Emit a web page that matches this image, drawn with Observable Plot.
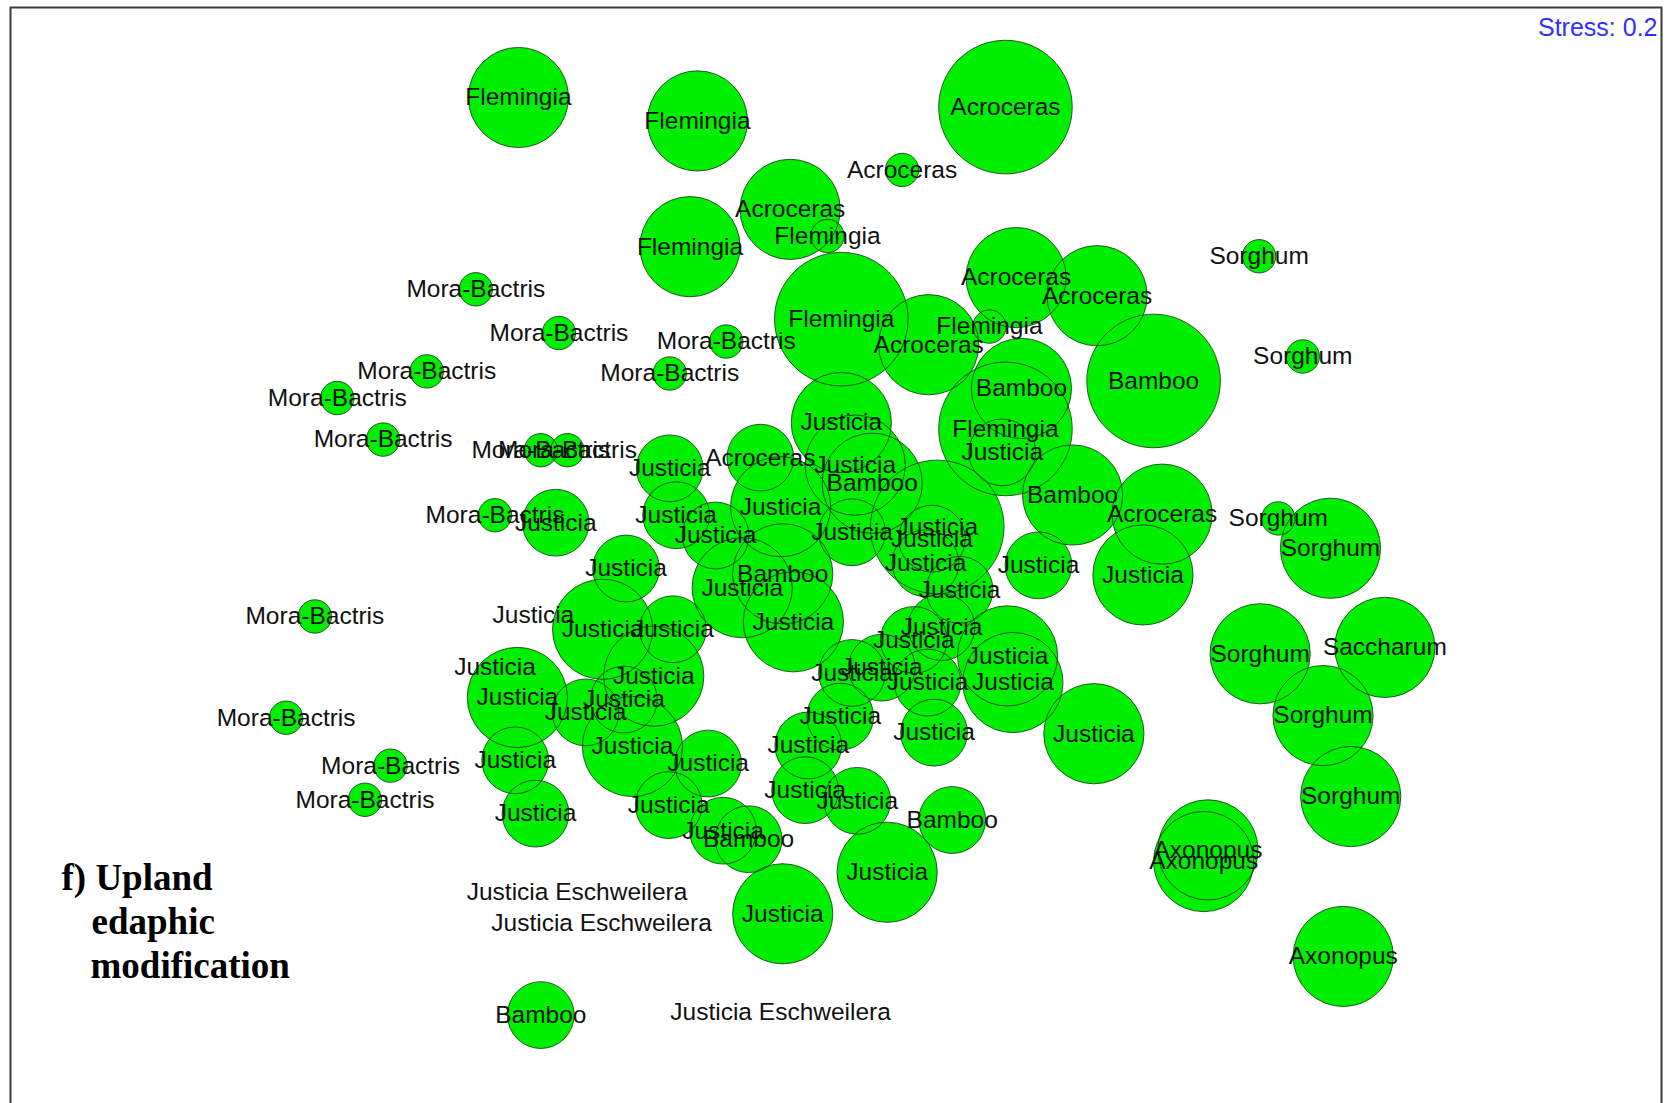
<!DOCTYPE html>
<html>
<head>
<meta charset="utf-8">
<script src="https://cdn.jsdelivr.net/npm/d3@7"></script>
<script src="https://cdn.jsdelivr.net/npm/@observablehq/plot@0.6"></script>
<style>
  html, body { margin: 0; padding: 0; background: #fff; overflow: hidden; }
  #chart { width: 1671px; height: 1103px; overflow: hidden; }
</style>
</head>
<body>
<div id="chart"></div>
<script>
// NMDS ordination of sampling plots, bubble size = abundance class of the dominant taxon
const species = [
  "Flemingia", "Flemingia", "Acroceras", "Acroceras", "Acroceras", "Flemingia", "Flemingia", "Sorghum",
  "Acroceras", "Acroceras", "Mora-Bactris", "Flemingia", "Flemingia", "Acroceras", "Mora-Bactris", "Mora-Bactris",
  "Sorghum", "Bamboo", "Bamboo", "Mora-Bactris", "Mora-Bactris", "Mora-Bactris", "Flemingia", "Justicia",
  "Justicia", "Mora-Bactris", "Mora-Bactris", "Mora-Bactris", "Justicia", "Acroceras", "Justicia", "Bamboo",
  "Bamboo", "Justicia", "Mora-Bactris", "Justicia", "Justicia", "Acroceras", "Sorghum", "Justicia",
  "Justicia", "Justicia", "Justicia", "Sorghum", "Justicia", "Justicia", "Justicia", "Justicia",
  "Bamboo", "Justicia", "Justicia", "Justicia", "Mora-Bactris", "Justicia", "Justicia", "Justicia",
  "Justicia", "Justicia", "Sorghum", "Saccharum", "Justicia", "Justicia", "Justicia", "Justicia",
  "Justicia", "Justicia", "Justicia", "Justicia", "Justicia", "Justicia", "Sorghum", "Mora-Bactris",
  "Justicia", "Justicia", "Justicia", "Justicia", "Justicia", "Justicia", "Justicia", "Mora-Bactris",
  "Justicia", "Justicia", "Justicia", "Mora-Bactris", "Sorghum", "Justicia", "Bamboo", "Justicia",
  "Bamboo", "Axonopus", "Axonopus", "Justicia", "Justicia", "Justicia Eschweilera", "Justicia Eschweilera", "Axonopus",
  "Bamboo", "Justicia Eschweilera"
];

// ordination scores (plot units), axis 1 and axis 2 (axis 2 increasing downwards)
const nmds1 = [
  486, 654, 943, 846, 741, 776, 647, 1181,
  953, 1029, 446, 789, 928, 871, 524, 681,
  1222, 1082, 958, 400, 316, 628, 943, 940,
  789, 359, 507, 532, 628, 713, 802, 818,
  1006, 732, 464, 521, 634, 1090, 1199, 671,
  799, 879, 874, 1248, 868, 974, 1072, 587,
  734, 696, 900, 500, 295, 565, 631, 744,
  883, 857, 1182, 1299, 945, 950, 464, 613,
  799, 827, 870, 485, 585, 549, 1241, 268,
  788, 876, 1026, 593, 758, 483, 664, 366,
  755, 804, 627, 342, 1267, 502, 893, 678,
  702, 1133, 1129, 832, 734, 541, 564, 1260,
  507, 732
];
const nmds2 = [
  91, 113, 100, 159, 196, 221, 231, 240,
  260, 277, 271, 299, 306, 323, 312, 320,
  334, 357, 364, 348, 373, 350, 402, 424,
  396, 412, 422, 422, 439, 429, 436, 453,
  464, 475, 483, 490, 483, 482, 486, 502,
  499, 494, 505, 514, 528, 530, 539, 533,
  538, 551, 553, 577, 578, 590, 590, 583,
  588, 600, 613, 607, 615, 640, 626, 634,
  631, 626, 640, 654, 656, 668, 671, 673,
  672, 687, 688, 700, 699, 713, 716, 718,
  741, 751, 755, 750, 747, 763, 769, 779,
  787, 797, 808, 818, 857, 837, 866, 897,
  952, 949
];
// abundance class (0 = recorded without cover)
const abundance = [
  3, 3, 4, 1, 3, 1, 3, 1,
  3, 3, 1, 4, 1, 3, 1, 1,
  1, 4, 3, 1, 1, 1, 4, 2,
  3, 1, 1, 1, 2, 2, 3, 3,
  3, 3, 1, 2, 2, 3, 1, 2,
  2, 4, 2, 3, 2, 2, 3, 2,
  3, 3, 2, 0, 1, 3, 2, 3,
  2, 2, 3, 3, 3, 3, 0, 3,
  2, 2, 2, 3, 2, 2, 3, 1,
  2, 2, 3, 3, 2, 2, 2, 1,
  2, 2, 2, 1, 3, 2, 2, 2,
  2, 3, 3, 3, 3, 0, 0, 3,
  2, 0
];

const stressLabel = "Stress: 0.2";
const panelTitle = ["f) Upland", "edaphic", "modification"];

const sites = species.map((s, i) => ({species: s, x: nmds1[i], y: nmds2[i], abundance: abundance[i]}));
const bubbles = sites.filter(d => d.abundance > 0);

const W = 1671, H = 1103;
const sans = "'Liberation Sans', Arial, Helvetica, sans-serif";
const serif = "'Liberation Serif', 'Times New Roman', Times, serif";

// title lines: left offset and baseline offset from the top-left corner of the frame
const titleLayout = [[51, 882], [81, 926], [80, 970]];

const plot = Plot.plot({
  width: W,
  height: 1130,
  marginLeft: 10,
  marginRight: 10,
  marginTop: 7,
  marginBottom: 0,
  x: {domain: [0, 1568], range: [0, W], axis: null},
  y: {domain: [0, 1035], range: [0, H], axis: null},
  r: {type: "linear", domain: [0, 4], range: [0, 66.8]},
  style: {background: "#fff", fontFamily: sans},
  marks: [
    Plot.frame({stroke: "#3a3a3a", strokeWidth: 2}),
    // fills first, outlines afterwards so every circle edge stays visible
    Plot.dot(bubbles, {x: "x", y: "y", r: "abundance", fill: "#00ee00", stroke: "none"}),
    Plot.dot(bubbles, {x: "x", y: "y", r: "abundance", fill: "none", stroke: "#1d3d1d", strokeWidth: 1, strokeOpacity: 0.85}),
    Plot.text(sites, {x: "x", y: "y", text: "species", fontSize: 24.5, fill: "#111", fontFamily: sans}),
    Plot.text([stressLabel], {
      text: d => d, frameAnchor: "top-right", lineAnchor: "top",
      dx: -4, dy: 11, fontSize: 25, fill: "#3030ff", fontFamily: sans
    }),
    ...panelTitle.map((line, i) => Plot.text([line], {
      text: d => d, frameAnchor: "top-left", textAnchor: "start", lineAnchor: "bottom",
      dx: titleLayout[i][0], dy: titleLayout[i][1],
      fontSize: 37, fontWeight: "bold", fill: "#000", fontFamily: serif
    }))
  ]
});

document.getElementById("chart").appendChild(plot);
</script>
</body>
</html>
